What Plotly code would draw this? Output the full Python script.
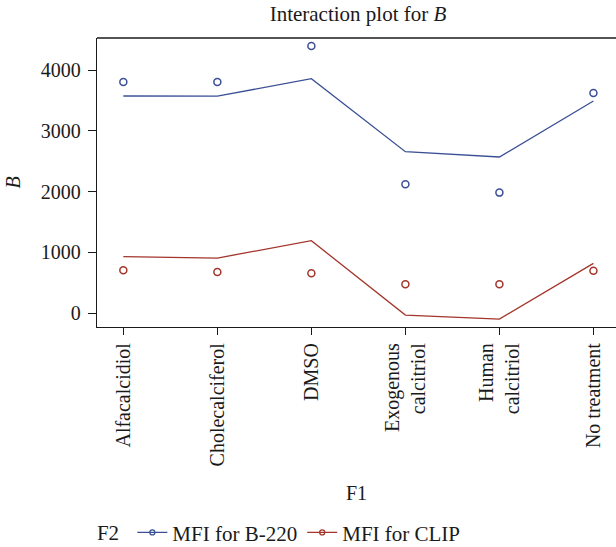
import plotly.graph_objects as go

categories = ["Alfacalcidiol", "Cholecalciferol", "DMSO", "Exogenous<br>calcitriol", "Human<br>calcitriol", "No treatment"]
b220_fit = [3572, 3570, 3857, 2655, 2568, 3490]
b220_obs = [3802, 3802, 4395, 2120, 1982, 3621]
clip_fit = [927, 905, 1190, -33, -99, 818]
clip_obs = [703, 675, 653, 472, 472, 697]

blue = "#3b4f95"
red = "#a3352b"
font_family = "Liberation Serif"

fig = go.Figure()
fig.add_trace(go.Scatter(x=categories, y=b220_fit, mode="lines", line=dict(color=blue, width=1.3), showlegend=False))
fig.add_trace(go.Scatter(x=categories, y=b220_obs, mode="markers",
                         marker=dict(symbol="circle-open", size=7, color=blue, line=dict(width=1.5, color=blue)), showlegend=False))
fig.add_trace(go.Scatter(x=categories, y=clip_fit, mode="lines", line=dict(color=red, width=1.3), showlegend=False))
fig.add_trace(go.Scatter(x=categories, y=clip_obs, mode="markers",
                         marker=dict(symbol="circle-open", size=7, color=red, line=dict(width=1.5, color=red)), showlegend=False))
# legend entries
fig.add_trace(go.Scatter(x=[None], y=[None], mode="lines+markers", name="MFI for B-220",
                         line=dict(color=blue, width=1.3),
                         marker=dict(symbol="circle-open", size=5, color=blue, line=dict(width=1.3, color=blue))))
fig.add_trace(go.Scatter(x=[None], y=[None], mode="lines+markers", name="MFI for CLIP",
                         line=dict(color=red, width=1.3),
                         marker=dict(symbol="circle-open", size=5, color=red, line=dict(width=1.3, color=red))))

fig.update_layout(
    width=616, height=547,
    margin=dict(l=97, r=0, t=38, b=220, autoexpand=False),
    paper_bgcolor="white", plot_bgcolor="white",
    font=dict(family=font_family, size=19, color="#1a1a1a"),
    title=dict(text="Interaction plot for <i>B</i>", x=358 / 616, xanchor="center", xref="container",
               y=1 - 14 / 547, yref="container", yanchor="middle", font=dict(size=21)),
    showlegend=True,
    legend=dict(orientation="h", x=-0.004, xanchor="left",
                y=-0.712, yanchor="middle",
                title=dict(text="F2 ", side="left", font=dict(size=21)), font=dict(size=21),
                itemwidth=30, bgcolor="rgba(0,0,0,0)"),
)
fig.update_xaxes(
    type="category", range=[-0.28, 5.24], automargin=True,
    showline=True, linecolor="#1a1a1a", linewidth=1.3, mirror=False,
    ticks="outside", ticklen=7, tickcolor="#1a1a1a", tickwidth=1.3,
    tickangle=-90, showgrid=False, zeroline=False, tickfont=dict(size=20),
    title=dict(text="F1", standoff=20, font=dict(size=20)),
)
fig.update_yaxes(
    range=[-230, 4527], automargin=False,
    showline=True, linecolor="#1a1a1a", linewidth=1.3, mirror=False,
    ticks="outside", ticklen=8, tickcolor="#1a1a1a", tickwidth=1.3,
    tickvals=[0, 1000, 2000, 3000, 4000], showgrid=False, zeroline=False,
    tickfont=dict(size=20), ticklabelstandoff=3,
    title=dict(text="<i>B</i>", standoff=14, font=dict(size=20)),
)
# top border line
fig.add_shape(type="line", xref="paper", yref="paper", x0=0, x1=1, y0=1, y1=1,
              line=dict(color="#1a1a1a", width=1.3))

fig.write_html("out.html")
